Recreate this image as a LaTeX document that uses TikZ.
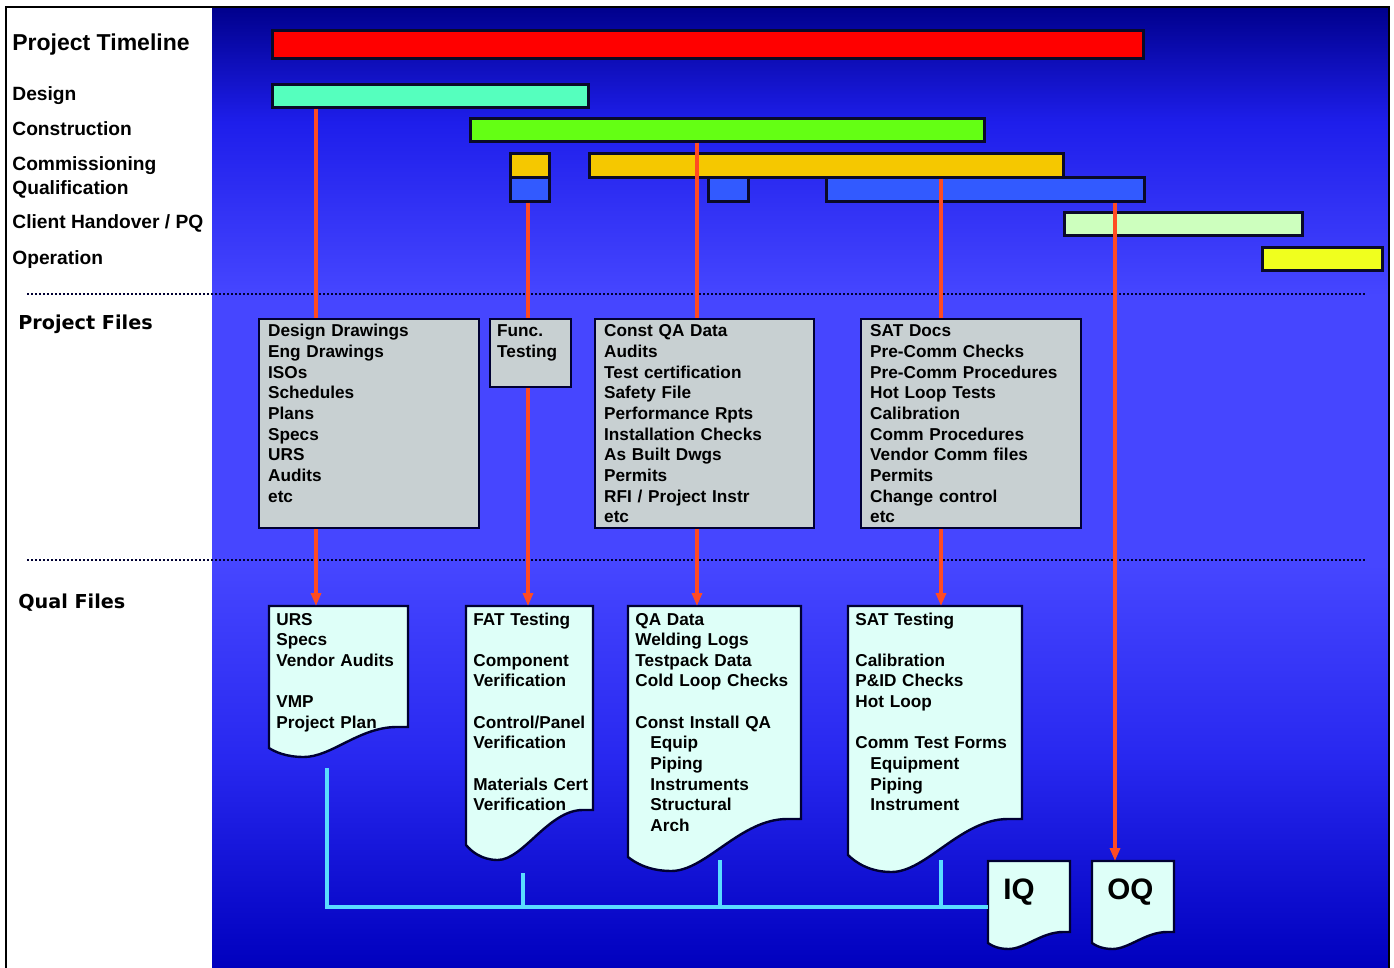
\documentclass[tikz,border=0pt]{standalone}
\usepackage{fontspec}
\setmainfont{Liberation Sans}
\newfontfamily\headfont{DejaVu Sans}
\usetikzlibrary{arrows.meta}
\definecolor{paneltop}{RGB}{0,0,140}
\definecolor{panelhi}{RGB}{30,30,235}
\definecolor{panelmid}{RGB}{70,70,255}
\definecolor{panellow}{RGB}{40,40,240}
\definecolor{panelbot}{RGB}{0,0,190}
\definecolor{barline}{RGB}{10,10,40}
\definecolor{barred}{RGB}{255,0,0}
\definecolor{bardesign}{RGB}{85,255,190}
\definecolor{barconstr}{RGB}{100,255,20}
\definecolor{barcomm}{RGB}{245,200,0}
\definecolor{barqual}{RGB}{50,90,255}
\definecolor{barhand}{RGB}{205,255,190}
\definecolor{baroper}{RGB}{240,255,30}
\definecolor{filegrey}{RGB}{200,208,210}
\definecolor{qualcyan}{RGB}{222,255,248}
\definecolor{boxline}{RGB}{0,0,50}
\definecolor{linered}{RGB}{255,75,35}
\definecolor{buscyan}{RGB}{90,220,255}
\pgfdeclareverticalshading{panelfade}{100bp}{color(0bp)=(panelbot); color(25bp)=(panelbot);
  color(36bp)=(panellow); color(46bp)=(panelmid); color(60bp)=(panelmid);
  color(69bp)=(panelhi); color(75bp)=(paneltop); color(100bp)=(paneltop)}
% document shape: left, right, top, right foot, left foot, dip
\newcommand{\qualdoc}[6]{%
  \pgfmathsetmacro{\docw}{#2-#1}
  \filldraw[qualdoc] (#1,#3) -- (#2,#3) -- (#2,#4) -- ({#2-0.08*\docw},#4)
    .. controls ({#2-0.35*\docw},#4) and ({#1+0.45*\docw},#6) .. ({#1+0.25*\docw},#6)
    .. controls ({#1+0.12*\docw},#6) and ({#1+0.04*\docw},{#5+0.4*(#6-#5)}) .. (#1,#5) -- cycle;
}
\begin{document}
\begin{tikzpicture}[x=0.5pt, y=-0.5pt,
bar/.style ={draw=barline, line width=1.3pt, inner sep=0pt, anchor=north west},
filebox/.style ={draw=boxline, line width=1.2pt, fill=filegrey, anchor=north west, align=left,
  inner xsep=4.5pt, inner ysep=2.5pt, text height=6.3pt, font=\bfseries\fontsize{8.6}{10.33}\selectfont},
qualtext/.style ={anchor=north west, align=left, inner xsep=3.5pt, inner ysep=3pt,
  text height=6.3pt, font=\bfseries\fontsize{8.6}{10.33}\selectfont},
bigtext/.style ={anchor=north west, inner xsep=7.5pt, inner ysep=8.2pt, text height=10.6pt,
  font=\bfseries\fontsize{14.8}{16}\selectfont},
qualdoc/.style ={draw=boxline, line width=1.2pt, fill=qualcyan},
redline/.style ={draw=linered, line width=2pt},
redarrow/.style ={redline, -{Triangle[width=5pt,length=6.5pt]}},
busline/.style ={draw=buscyan, line width=1.6pt},
sidelabel/.style ={anchor=base west, inner sep=0pt, font=\bfseries\fontsize{9.6}{11}\selectfont},
sectlabel/.style ={anchor=base west, inner sep=0pt, font=\headfont\bfseries\fontsize{9.6}{11}\selectfont},
sepline/.style ={draw=boxline, line width=1.3pt, dash pattern=on 1pt off 1pt}]
\useasboundingbox (0,0) rectangle (1394,968);
\fill[white] (0,0) rectangle (1394,968);
\shade[shading=panelfade] (212,7) rectangle (1389,968);
\draw[line width=0.6pt] (6,968) -- (6,7) -- (1389,7) -- (1389,968);

% left column
\node[sidelabel, font=\bfseries\fontsize{11.5}{13}\selectfont] (ttimeline) at (12,51) {Project Timeline};
\node[sidelabel] (tdesign) at (12,101) {Design};
\node[sidelabel] (tconstr) at (12,136) {Construction};
\node[sidelabel] (tcomm) at (12,171) {Commissioning};
\node[sidelabel] (tqual) at (12,195) {Qualification};
\node[sidelabel] (thand) at (12,229) {Client Handover / PQ};
\node[sidelabel] (toper) at (12,265) {Operation};
\node[sectlabel] (tpfiles) at (18,330) {Project Files};
\node[sectlabel] (tqfiles) at (18,608) {Qual Files};

\draw[sepline] (27,294) -- (1366,294);
\draw[sepline] (27,560) -- (1366,560);

% timeline bars
\node[bar, fill=barred, minimum width=435.5pt, minimum height=14pt] (timeline) at (271,29) {};
\node[bar, fill=bardesign, minimum width=158pt, minimum height=11.5pt] (design) at (271,83) {};
\node[bar, fill=barconstr, minimum width=257pt, minimum height=11.5pt] (constr) at (469,117) {};
\node[bar, fill=barcomm, minimum width=19.5pt, minimum height=12pt] (comm1) at (509,152) {};
\node[bar, fill=barcomm, minimum width=237pt, minimum height=12pt] (comm2) at (588,152) {};
\node[bar, fill=barqual, minimum width=19.5pt, minimum height=12pt] (qual1) at (509,176) {};
\node[bar, fill=barqual, minimum width=20pt, minimum height=12pt] (qual2) at (707,176) {};
\node[bar, fill=barqual, minimum width=159pt, minimum height=12pt] (qual3) at (825,176) {};
\node[bar, fill=barhand, minimum width=119pt, minimum height=11.5pt] (hand) at (1063,211) {};
\node[bar, fill=baroper, minimum width=60pt, minimum height=11.5pt] (oper) at (1261,246) {};

% project files
\node[filebox, text width=101pt, text depth=93pt] (pf1) at (258,318)
  {Design Drawings\\Eng Drawings\\ISOs\\Schedules\\Plans\\Specs\\URS\\Audits\\etc};
\node[filebox, inner xsep=3.5pt, text width=33.5pt, text depth=22.7pt] (pf2) at (489,318)
  {Func.\\Testing};
\node[filebox, text width=100.5pt, text depth=93pt] (pf3) at (594,318)
  {Const QA Data\\Audits\\Test certification\\Safety File\\Performance Rpts\\Installation Checks\\As Built Dwgs\\Permits\\RFI / Project Instr\\etc};
\node[filebox, text width=101pt, text depth=93pt] (pf4) at (860,318)
  {SAT Docs\\Pre-Comm Checks\\Pre-Comm Procedures\\Hot Loop Tests\\Calibration\\Comm Procedures\\Vendor Comm files\\Permits\\Change control\\etc};

% qual files
\qualdoc{269}{408}{606}{727}{748}{757}
\qualdoc{466}{593}{606}{810}{845}{860}
\qualdoc{628}{801}{606}{819}{857}{871}
\qualdoc{848}{1022}{606}{819}{855}{872}
\qualdoc{988}{1070}{861}{932}{943}{949}
\qualdoc{1092}{1174}{861}{932}{943}{949}
\node[qualtext, text width=67pt] (qf1) at (269,606)
  {URS\\Specs\\Vendor Audits\\[10.33pt]VMP\\Project Plan};
\node[qualtext, text width=62pt] (qf2) at (466,606)
  {FAT Testing\\[10.33pt]Component\\Verification\\[10.33pt]Control/Panel\\Verification\\[10.33pt]Materials Cert\\Verification};
\node[qualtext, text width=83pt] (qf3) at (628,606)
  {QA Data\\Welding Logs\\Testpack Data\\Cold Loop Checks\\[10.33pt]Const Install QA\\\hspace*{7.5pt}Equip\\\hspace*{7.5pt}Piping\\\hspace*{7.5pt}Instruments\\\hspace*{7.5pt}Structural\\\hspace*{7.5pt}Arch};
\node[qualtext, text width=83pt] (qf4) at (848,606)
  {SAT Testing\\[10.33pt]Calibration\\P\&ID Checks\\Hot Loop\\[10.33pt]Comm Test Forms\\\hspace*{7.5pt}Equipment\\\hspace*{7.5pt}Piping\\\hspace*{7.5pt}Instrument};
\node[bigtext] (iq) at (988,861) {IQ};
\node[bigtext] (oq) at (1092,861) {OQ};

% red feeds
\coordinate (l1) at (316,0);
\coordinate (l2) at (528,0);
\coordinate (l3) at (697,0);
\coordinate (l4) at (941,0);
\coordinate (l5) at (1115,0);
\draw[redline] (design.south -| l1) -- (pf1.north -| l1);
\draw[redarrow] (pf1.south -| l1) -- (qf1.north -| l1);
\draw[redline] (qual1.south -| l2) -- (pf2.north -| l2);
\draw[redarrow] (pf2.south -| l2) -- (qf2.north -| l2);
\draw[redline] (constr.south -| l3) -- (pf3.north -| l3);
\draw[redarrow] (pf3.south -| l3) -- (qf3.north -| l3);
\draw[redline] (comm2.south -| l4) -- (pf4.north -| l4);
\draw[redarrow] (pf4.south -| l4) -- (qf4.north -| l4);
\draw[redarrow] (qual3.south -| l5) -- (oq.north -| l5);

% IQ bus
\coordinate (c1) at (327,768);
\coordinate (c2) at (523,873);
\coordinate (c3) at (720,860);
\coordinate (c4) at (941,860);
\coordinate (bus) at (327,907);
\draw[busline] (c1) -- (bus) -- (bus -| iq.west);
\foreach \c in {c2,c3,c4}
  \draw[busline] (\c) -- (\c |- bus);
\end{tikzpicture}
\end{document}
